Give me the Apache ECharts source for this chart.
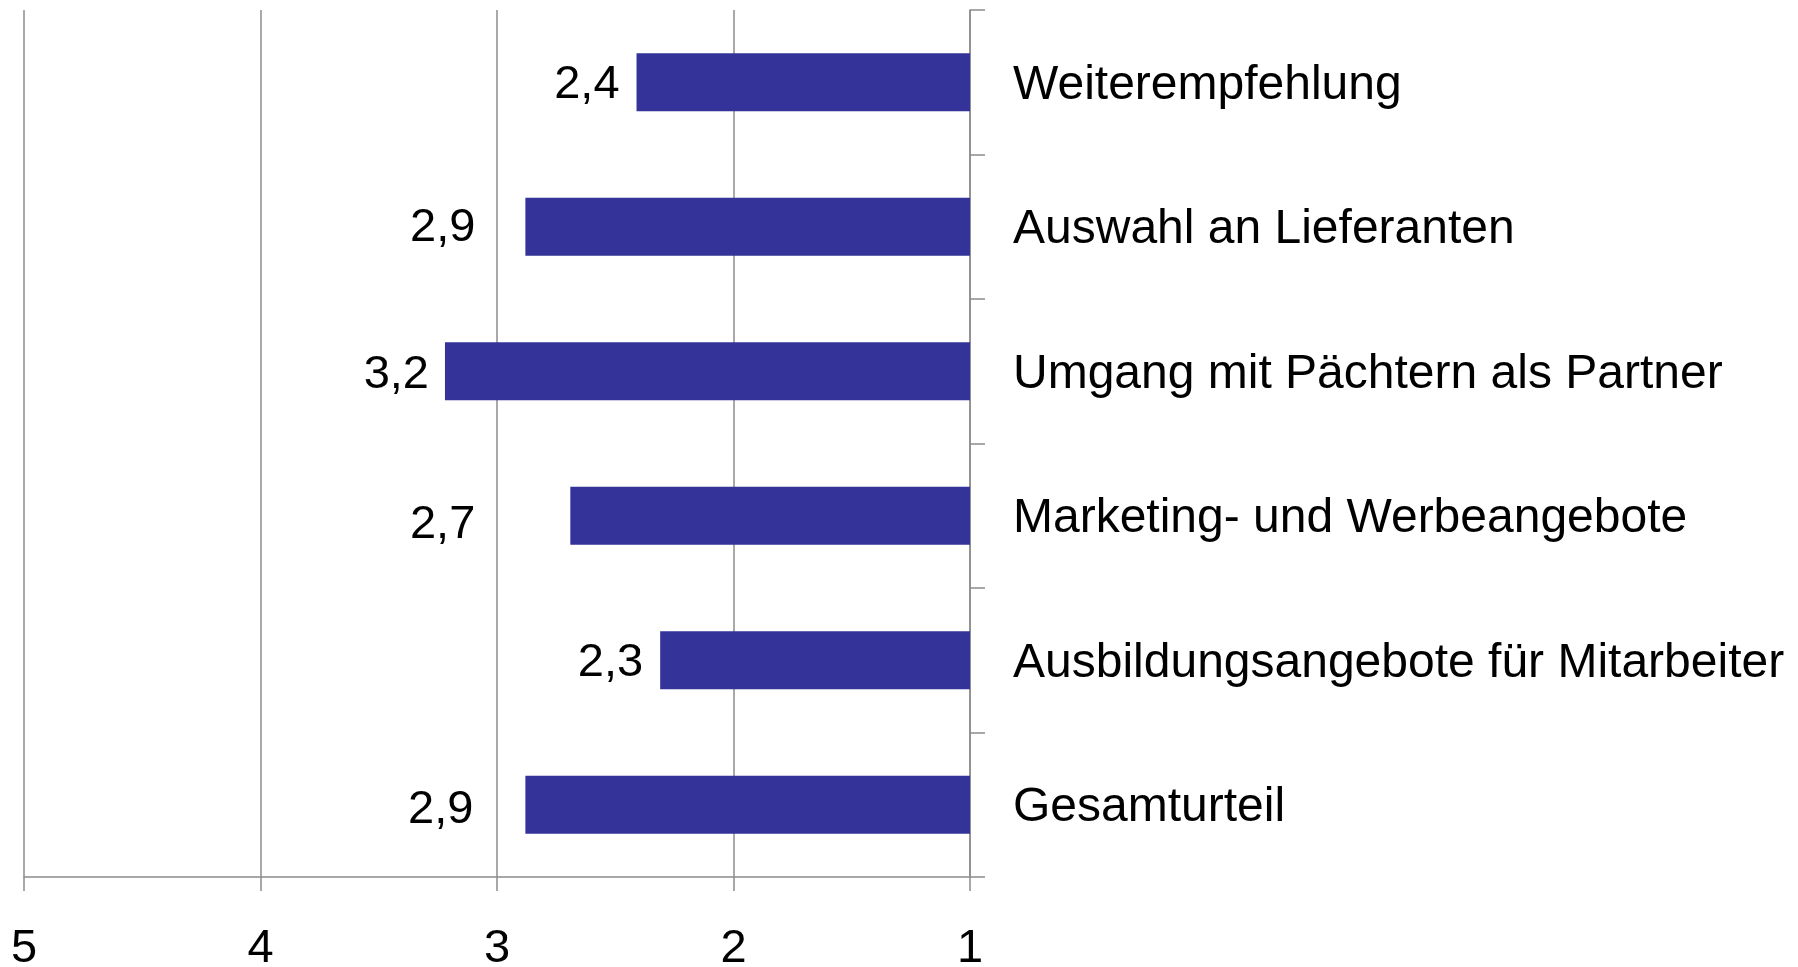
<!DOCTYPE html>
<html>
<head>
<meta charset="utf-8">
<script src="https://cdn.jsdelivr.net/npm/echarts@6/dist/echarts.min.js"></script>
<style>
  html, body { margin: 0; padding: 0; background: #fff; }
  #main { width: 1798px; height: 967px; }
</style>
</head>
<body>
<div id="main"></div>
<script>
// Kategorien von oben nach unten
var categories = [
  "Weiterempfehlung",
  "Auswahl an Lieferanten",
  "Umgang mit Pächtern als Partner",
  "Marketing- und Werbeangebote",
  "Ausbildungsangebote für Mitarbeiter",
  "Gesamturteil"
];
// Durchschnittsnoten (1 = beste Note)
var scores = [2.41, 2.88, 3.22, 2.69, 2.31, 2.88];
var axisTicks = [1, 2, 3, 4, 5];

// label placement like in the original (not data)
var labelGap = [17, 50, 16, 95, 17, 52];
var labelShiftY = [3, 1, 4, 9, 3, 5];

var gray = "#8c8c8c";
var font = "Liberation Sans, Arial, Helvetica, sans-serif";

var myChart = echarts.init(document.getElementById("main"));

var barData = [];
for (var i = 0; i < scores.length; i++) {
  barData.push({
    value: scores[i],
    label: { distance: labelGap[i], offset: [0, labelShiftY[i]] }
  });
}

var option = {
  animation: false,
  backgroundColor: "#fff",
  grid: {
    left: 24,
    right: 828,
    top: 10,
    bottom: 90,
    containLabel: false,
    outerBoundsMode: "none"
  },
  xAxis: {
    type: "value",
    inverse: true,
    min: axisTicks[0],
    max: axisTicks[axisTicks.length - 1],
    interval: 1,
    axisLine: { show: true, lineStyle: { color: gray, width: 1.5 } },
    axisTick: { show: true, length: 14, lineStyle: { color: gray, width: 1.5 } },
    splitLine: { show: true, lineStyle: { color: gray, width: 1.5 } },
    axisLabel: {
      margin: 49,
      color: "#000",
      fontSize: 47,
      fontFamily: font
    }
  },
  yAxis: {
    type: "category",
    position: "right",
    inverse: true,
    data: categories,
    axisLine: { show: true, lineStyle: { color: gray, width: 1.5 } },
    axisTick: { show: true, length: 15, lineStyle: { color: gray, width: 1.5 } },
    axisLabel: {
      margin: 43,
      verticalAlign: "top",
      lineHeight: 7,
      color: "#000",
      fontSize: 48,
      fontFamily: font
    }
  },
  series: [
    {
      type: "bar",
      data: barData,
      barWidth: 58,
      clip: true,
      itemStyle: { color: "#333399" },
      label: {
        show: true,
        position: "left",
        color: "#000",
        fontSize: 47,
        fontFamily: font,
        formatter: function (p) {
          return p.value.toFixed(1).replace(".", ",");
        }
      }
    }
  ]
};

option && myChart.setOption(option);
</script>
</body>
</html>
